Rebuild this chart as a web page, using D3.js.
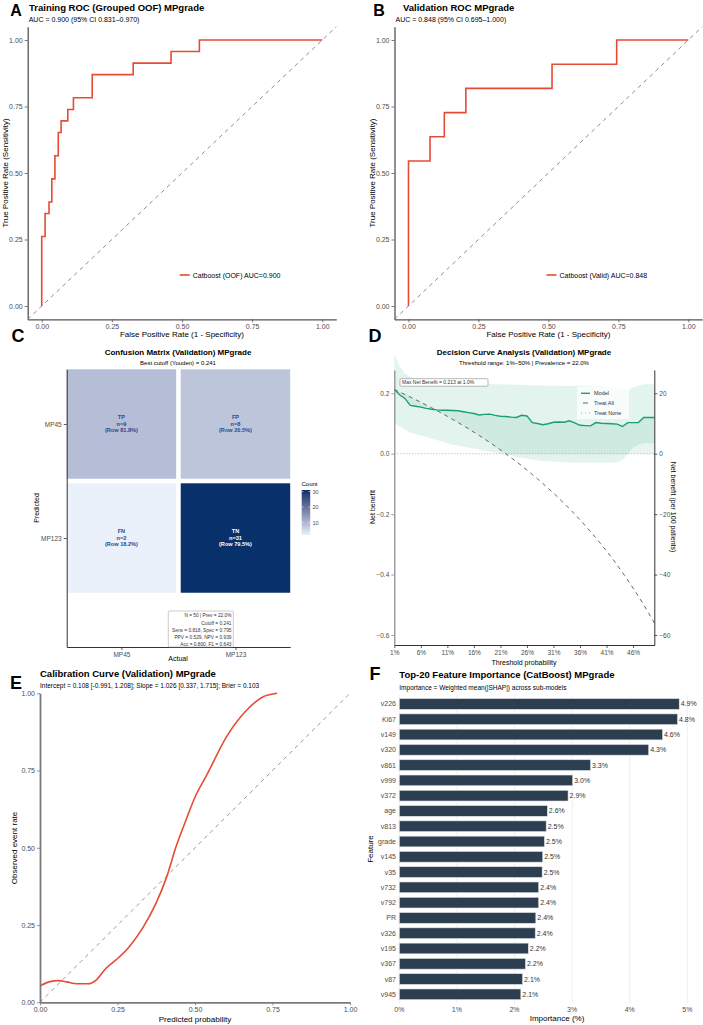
<!DOCTYPE html>
<html>
<head>
<meta charset="utf-8">
<script src="https://cdn.jsdelivr.net/npm/d3@7"></script>
<style>
body { margin: 0; background: #fff; }
text { font-family: "Liberation Sans", Arial, Helvetica, sans-serif; }
</style>
</head>
<body>
<div id="chart"></div>
<script>
// ---- data ----
var rocTrainFpr = [0, 0, 0.012, 0.026, 0.036, 0.047, 0.059, 0.069, 0.093, 0.113, 0.180, 0.326, 0.461, 0.562, 1]
var rocTrainTpr = [0, 0.261, 0.348, 0.391, 0.478, 0.565, 0.652, 0.696, 0.739, 0.783, 0.870, 0.913, 0.957, 1, 1]
var rocValidFpr = [0, 0, 0.077, 0.128, 0.205, 0.513, 0.744, 1]
var rocValidTpr = [0, 0.545, 0.636, 0.727, 0.818, 0.909, 1, 1]
var rocTicks = [0, 0.25, 0.5, 0.75, 1]

var cmActual = ["MP45", "MP123", "MP45", "MP123"]
var cmPredicted = ["MP45", "MP45", "MP123", "MP123"]
var cmLabel = ["TP", "FP", "FN", "TN"]
var cmCount = [9, 8, 2, 31]
var cmRowPct = ["81.8%", "20.5%", "18.2%", "79.5%"]
var cmStats = ["N = 50 | Prev = 22.0%", "Cutoff = 0.241", "Sens = 0.818, Spec = 0.795",
    "PPV = 0.529, NPV = 0.939", "Acc = 0.800, F1 = 0.643"]
var countTicks = [10, 20, 30]

var dcaThreshold = d3.range(1, 51).map(function(d) { return d / 100 })
var dcaModel = [0.213, 0.195, 0.183, 0.160, 0.157, 0.154, 0.150, 0.147, 0.145, 0.144,
    0.144, 0.143, 0.142, 0.139, 0.136, 0.133, 0.128, 0.130, 0.131, 0.127,
    0.124, 0.123, 0.121, 0.120, 0.127, 0.125, 0.103, 0.100, 0.096, 0.099,
    0.104, 0.105, 0.104, 0.109, 0.102, 0.094, 0.093, 0.092, 0.103, 0.101,
    0.100, 0.099, 0.098, 0.090, 0.103, 0.103, 0.103, 0.120, 0.120, 0.120]
var dcaUpper = [0.330, 0.290, 0.265, 0.255, 0.250, 0.247, 0.245, 0.243, 0.241, 0.240,
    0.238, 0.237, 0.236, 0.235, 0.234, 0.233, 0.232, 0.232, 0.231, 0.230,
    0.230, 0.229, 0.229, 0.228, 0.228, 0.227, 0.226, 0.226, 0.225, 0.225,
    0.225, 0.225, 0.224, 0.224, 0.224, 0.223, 0.223, 0.222, 0.222, 0.222,
    0.221, 0.221, 0.221, 0.220, 0.210, 0.220, 0.225, 0.230, 0.230, 0.230]
var dcaLower = [0.100, 0.090, 0.080, 0.070, 0.065, 0.060, 0.055, 0.050, 0.045, 0.040,
    0.035, 0.030, 0.027, 0.024, 0.020, 0.017, 0.014, 0.010, 0.007, 0.004,
    0.000, -0.003, -0.006, -0.010, -0.013, -0.016, -0.020, -0.022, -0.024, -0.025,
    -0.026, -0.027, -0.028, -0.028, -0.029, -0.030, -0.030, -0.030, -0.030, -0.030,
    -0.030, -0.030, -0.028, -0.020, 0.000, 0.020, 0.030, 0.035, 0.035, 0.035]
var dcaTreatAll = [0.2121, 0.2041, 0.1959, 0.1875, 0.1789, 0.1702, 0.1613, 0.1522, 0.1429, 0.1333,
    0.1236, 0.1136, 0.1034, 0.0930, 0.0824, 0.0714, 0.0602, 0.0488, 0.0370, 0.0250,
    0.0127, 0.0000, -0.0130, -0.0263, -0.0400, -0.0541, -0.0685, -0.0833, -0.0986, -0.1143,
    -0.1304, -0.1471, -0.1642, -0.1818, -0.2000, -0.2188, -0.2381, -0.2581, -0.2787, -0.3000,
    -0.3220, -0.3448, -0.3684, -0.3929, -0.4182, -0.4444, -0.4717, -0.5000, -0.5294, -0.5600]
var dcaXTicks = [0.01, 0.06, 0.11, 0.16, 0.21, 0.26, 0.31, 0.36, 0.41, 0.46]
var dcaYTicks = [-0.6, -0.4, -0.2, 0, 0.2]

var calPred = [0, 0.032, 0.059, 0.086, 0.118, 0.155, 0.181, 0.213, 0.245, 0.288, 0.331,
    0.374, 0.407, 0.439, 0.471, 0.503, 0.535, 0.602, 0.667, 0.720, 0.765]
var calObs = [0.053, 0.067, 0.070, 0.066, 0.060, 0.060, 0.072, 0.110, 0.137, 0.180, 0.240,
    0.320, 0.401, 0.504, 0.590, 0.671, 0.730, 0.860, 0.946, 0.989, 1.000]

var features = ["v226", "Ki67", "v149", "v320", "v861", "v999", "v372", "age", "v813", "grade",
    "v145", "v35", "v732", "v792", "PR", "v326", "v195", "v367", "v87", "v945"]
var importance = [4.86, 4.83, 4.57, 4.33, 3.32, 3.01, 2.93, 2.57, 2.55, 2.52,
    2.49, 2.48, 2.42, 2.42, 2.37, 2.36, 2.24, 2.19, 2.14, 2.11]
var impTicks = [0, 1, 2, 3, 4, 5]

// ---- colours ----
var RED = "#E64B35", GREEN = "#1B9E77", BAR = "#2C3E50", GRID = "#EBEBEB"
var TICK_TXT = "#4D4D4D", AXIS = "#555555"

var svg = d3.select("#chart").append("svg")
    .attr("width", 703)
    .attr("height", 1025)
    .style("background", "#fff")
svg.append("rect").attr("width", 703).attr("height", 1025).attr("fill", "#fff")

function text(g, x, y, s, size, opt) {
    opt = opt || {}
    var t = g.append("text")
        .attr("x", x).attr("y", y)
        .attr("font-size", size)
        .attr("fill", opt.fill || "#000")
        .attr("text-anchor", opt.anchor || "start")
        .text(s)
    if (opt.bold) t.attr("font-weight", "bold")
    if (opt.rotate) t.attr("transform", "rotate(" + opt.rotate + "," + x + "," + y + ")")
    return t
}

function styleAxis(g, lineColor, lineWidth, fontSize) {
    g.select(".domain").attr("stroke", lineColor).attr("stroke-width", lineWidth)
    g.selectAll(".tick line").attr("stroke", lineColor).attr("stroke-width", 0.8)
    g.selectAll(".tick text").attr("fill", TICK_TXT).attr("font-size", fontSize)
        .attr("font-family", "Liberation Sans, Arial, sans-serif")
}

// ---- panels A & B: ROC ----
function rocPanel(tag, tagX, x0, x1, title, titleX, sub, fpr, tpr, legendTxt) {
    var g = svg.append("g")
    var x = d3.scaleLinear().domain([-0.05, 1.05]).range([x0, x1])
    var y = d3.scaleLinear().domain([-0.05, 1.05]).range([319.3, 26.7])

    var ax = g.append("g").attr("transform", "translate(0,319.3)")
        .call(d3.axisBottom(x).tickValues(rocTicks).tickFormat(d3.format(".2f")).tickSize(3).tickSizeOuter(0).tickPadding(2))
    styleAxis(ax, AXIS, 1.3, 7)
    var ay = g.append("g").attr("transform", "translate(" + x0 + ",0)")
        .call(d3.axisLeft(y).tickValues(rocTicks).tickFormat(d3.format(".2f")).tickSize(3).tickSizeOuter(0).tickPadding(2))
    styleAxis(ay, AXIS, 1.3, 7)

    g.append("line")
        .attr("x1", x(-0.05)).attr("y1", y(-0.05)).attr("x2", x(1.05)).attr("y2", y(1.05))
        .attr("stroke", "#7F7F7F").attr("stroke-width", 0.9).attr("stroke-dasharray", "4,4")

    var pts = fpr.map(function(d, i) { return [d, tpr[i]] })
    g.append("path").datum(pts)
        .attr("d", d3.line().x(function(d) { return x(d[0]) }).y(function(d) { return y(d[1]) }).curve(d3.curveStepAfter))
        .attr("fill", "none").attr("stroke", RED).attr("stroke-width", 1.6)

    // legend inside the panel
    g.append("line").attr("x1", x0 + 152).attr("x2", x0 + 162).attr("y1", 275).attr("y2", 275)
        .attr("stroke", RED).attr("stroke-width", 1.6)
    text(g, x0 + 165, 277.5, legendTxt, 7)

    text(g, (x(0) + x(1)) / 2, 337, "False Positive Rate (1 - Specificity)", 8, {anchor: "middle"})
    text(g, x0 - 20, y(0.5), "True Positive Rate (Sensitivity)", 8, {anchor: "middle", rotate: -90})
    text(g, titleX, 11, title, 9.5, {bold: true})
    text(g, x0 + 1, 22, sub, 7)
    text(g, tagX, 16, tag, 16, {bold: true, anchor: "middle"})
}

rocPanel("A", 16, 27.7, 336.3, "Training ROC (Grouped OOF) MPgrade", 29,
    "AUC = 0.900 (95% CI 0.831\u20130.970)", rocTrainFpr, rocTrainTpr, "Catboost (OOF)  AUC=0.900")
rocPanel("B", 379, 394.5, 702.3, "Validation ROC MPgrade", 403,
    "AUC = 0.848 (95% CI 0.695\u20131.000)", rocValidFpr, rocValidTpr, "Catboost (Valid)  AUC=0.848")

// ---- panel C: confusion matrix ----
;(function() {
    var g = svg.append("g")
    var lv = ["MP45", "MP123"]
    var x = d3.scaleLinear().domain([0.52, 2.48]).range([66.7, 290.2])
    var y = d3.scaleLinear().domain([0.52, 2.956]).range([369.3, 647])
    var color = d3.scaleLinear().domain([2, 31]).range(["#EAF1FA", "#08306B"]).interpolate(d3.interpolateLab)

    g.selectAll("rect.tile").data(cmCount).enter().append("rect")
        .attr("class", "tile")
        .attr("x", function(d, i) { return x(lv.indexOf(cmActual[i]) + 1 - 0.48) })
        .attr("y", function(d, i) { return y(lv.indexOf(cmPredicted[i]) + 1 - 0.48) })
        .attr("width", x(1.48) - x(0.52))
        .attr("height", y(1.48) - y(0.52))
        .attr("fill", function(d) { return color(d) })

    cmCount.forEach(function(d, i) {
        var cx = x(lv.indexOf(cmActual[i]) + 1), cy = y(lv.indexOf(cmPredicted[i]) + 1)
        var col = d > 20 ? "#FFFFFF" : "#2B4A8C"
        var lines = [cmLabel[i], "n=" + d, "(Row " + cmRowPct[i] + ")"]
        lines.forEach(function(s, k) {
            text(g, cx, cy - 5 + k * 6.6, s, 5.6, {anchor: "middle", bold: true, fill: col})
        })
    })

    var ax = g.append("g").attr("transform", "translate(0,647)")
        .call(d3.axisBottom(x).tickValues([1, 2]).tickFormat(function(d) { return lv[d - 1] }).tickSize(3).tickSizeOuter(0).tickPadding(2))
    styleAxis(ax, "#333", 1, 6.5)
    var ay = g.append("g").attr("transform", "translate(66.7,0)")
        .call(d3.axisLeft(y).tickValues([1, 2]).tickFormat(function(d) { return lv[d - 1] }).tickSize(3).tickSizeOuter(0).tickPadding(2))
    styleAxis(ay, "#333", 1, 6.5)

    // stats box
    g.append("rect").attr("x", 168.3).attr("y", 611).attr("width", 65).attr("height", 36)
        .attr("fill", "#fff").attr("stroke", "#999").attr("stroke-width", 0.5).attr("rx", 1)
    cmStats.forEach(function(s, k) {
        text(g, 231.5, 617.3 + k * 7.2, s, 4.8, {anchor: "end", fill: "#333"})
    })

    // colour bar
    var grad = svg.append("defs").append("linearGradient").attr("id", "cmgrad")
        .attr("x1", 0).attr("y1", 1).attr("x2", 0).attr("y2", 0)
    d3.range(0, 1.01, 0.1).forEach(function(f) {
        grad.append("stop").attr("offset", f).attr("stop-color", color(2 + f * 29))
    })
    var cb = d3.scaleLinear().domain([2, 31]).range([535, 490])
    g.append("rect").attr("x", 301.7).attr("y", 490).attr("width", 8.5).attr("height", 45).attr("fill", "url(#cmgrad)")
    countTicks.forEach(function(v) {
        g.append("line").attr("x1", 301.7).attr("x2", 303.5).attr("y1", cb(v)).attr("y2", cb(v)).attr("stroke", "#fff").attr("stroke-width", 0.5)
        g.append("line").attr("x1", 308.4).attr("x2", 310.2).attr("y1", cb(v)).attr("y2", cb(v)).attr("stroke", "#fff").attr("stroke-width", 0.5)
        text(g, 312.5, cb(v) + 2, v, 5.5, {fill: TICK_TXT})
    })
    text(g, 301.5, 486, "Count", 6)

    text(g, 178, 355, "Confusion Matrix (Validation) MPgrade", 8, {anchor: "middle", bold: true})
    text(g, 178, 365, "Best cutoff (Youden) = 0.241", 6, {anchor: "middle"})
    text(g, 178, 661, "Actual", 7, {anchor: "middle"})
    text(g, 39, 508, "Predicted", 7, {anchor: "middle", rotate: -90})
    text(g, 18, 342, "C", 18, {bold: true, anchor: "middle"})
})()

// ---- panel D: decision curve ----
;(function() {
    var g = svg.append("g")
    var x = d3.scaleLinear().domain([0.01, 0.5]).range([394.3, 654.3])
    var y = d3.scaleLinear().domain([-0.633, 0.277]).range([645, 370])
    var y2 = d3.scaleLinear().domain([-63.3, 27.7]).range([645, 370])

    var rib = d3.area()
        .x(function(d, i) { return x(dcaThreshold[i]) })
        .y0(function(d, i) { return y(dcaLower[i]) })
        .y1(function(d, i) { return y(dcaUpper[i]) })
    g.append("path").datum(dcaModel).attr("d", rib).attr("fill", GREEN).attr("fill-opacity", 0.12)

    // benefit region between model and the better default strategy
    var ben = d3.area()
        .x(function(d, i) { return x(dcaThreshold[i]) })
        .y0(function(d, i) { return y(Math.max(dcaTreatAll[i], 0)) })
        .y1(function(d) { return y(d) })
    g.append("path").datum(dcaModel).attr("d", ben).attr("fill", GREEN).attr("fill-opacity", 0.1)

    g.append("line").attr("x1", x(0.01)).attr("x2", x(0.5)).attr("y1", y(0)).attr("y2", y(0))
        .attr("stroke", "#9A9A9A").attr("stroke-width", 0.8).attr("stroke-dasharray", "1,2")

    var ln = d3.line().x(function(d, i) { return x(dcaThreshold[i]) }).y(function(d) { return y(d) })
    g.append("path").datum(dcaTreatAll).attr("d", ln).attr("fill", "none")
        .attr("stroke", "#555").attr("stroke-width", 0.9).attr("stroke-dasharray", "4,4")
    g.append("path").datum(dcaModel).attr("d", ln).attr("fill", "none")
        .attr("stroke", GREEN).attr("stroke-width", 1.4)

    var ax = g.append("g").attr("transform", "translate(0,645)")
        .call(d3.axisBottom(x).tickValues(dcaXTicks).tickFormat(d3.format(".0%")).tickSize(3).tickSizeOuter(0).tickPadding(2))
    styleAxis(ax, "#333", 1, 6.5)
    var ay = g.append("g").attr("transform", "translate(394.3,0)")
        .call(d3.axisLeft(y).tickValues(dcaYTicks).tickFormat(d3.format(".1f")).tickSize(3).tickSizeOuter(0).tickPadding(2))
    styleAxis(ay, "#888", 1.2, 6.5)
    var ay2 = g.append("g").attr("transform", "translate(654.3,0)")
        .call(d3.axisRight(y2).tickValues([-60, -40, -20, 0, 20]).tickSize(3).tickSizeOuter(0).tickPadding(2))
    styleAxis(ay2, "#333", 1, 6.5)

    // max net benefit label
    g.append("rect").attr("x", 400).attr("y", 378.7).attr("width", 88).attr("height", 7.5)
        .attr("fill", "#fff").attr("stroke", "#777").attr("stroke-width", 0.5).attr("rx", 1.2)
    text(g, 402, 384.3, "Max Net Benefit = 0.213 at 1.0%", 5, {fill: "#333"})

    // legend
    g.append("rect").attr("x", 577).attr("y", 387).attr("width", 52).attr("height", 32).attr("fill", "#fff").attr("fill-opacity", 0.75)
    g.append("line").attr("x1", 581).attr("x2", 590).attr("y1", 393.3).attr("y2", 393.3).attr("stroke", GREEN).attr("stroke-width", 1.4)
    g.append("line").attr("x1", 583).attr("x2", 588).attr("y1", 403).attr("y2", 403).attr("stroke", "#555").attr("stroke-width", 0.9)
    g.append("line").attr("x1", 581).attr("x2", 590).attr("y1", 413).attr("y2", 413).attr("stroke", "#9A9A9A").attr("stroke-width", 0.8).attr("stroke-dasharray", "1,3")
    text(g, 594, 395.3, "Model", 5.5, {fill: "#333"})
    text(g, 594, 405, "Treat All", 5.5, {fill: "#333"})
    text(g, 594, 415, "Treat None", 5.5, {fill: "#333"})

    text(g, 524, 355, "Decision Curve Analysis (Validation) MPgrade", 8, {anchor: "middle", bold: true})
    text(g, 524, 365, "Threshold range: 1%\u201350% | Prevalence = 22.0%", 6, {anchor: "middle"})
    text(g, 524, 665, "Threshold probability", 7, {anchor: "middle"})
    text(g, 375, 507, "Net benefit", 7, {anchor: "middle", rotate: -90})
    text(g, 671, 507, "Net benefit (per 100 patients)", 7, {anchor: "middle", rotate: 90})
    text(g, 375, 342, "D", 18, {bold: true, anchor: "middle"})
})()

// ---- panel E: calibration ----
;(function() {
    var g = svg.append("g")
    var x = d3.scaleLinear().domain([0, 1]).range([40, 350])
    var y = d3.scaleLinear().domain([0, 1]).range([1002.3, 693.3])

    g.append("line").attr("x1", x(0)).attr("y1", y(0)).attr("x2", x(1)).attr("y2", y(1))
        .attr("stroke", "#8C8C8C").attr("stroke-width", 0.9).attr("stroke-dasharray", "4,4")

    var pts = calPred.map(function(d, i) { return [d, calObs[i]] })
    g.append("path").datum(pts)
        .attr("d", d3.line().x(function(d) { return x(d[0]) }).y(function(d) { return y(d[1]) }).curve(d3.curveMonotoneX))
        .attr("fill", "none").attr("stroke", RED).attr("stroke-width", 1.6)

    var ax = g.append("g").attr("transform", "translate(0,1002.3)")
        .call(d3.axisBottom(x).tickValues(rocTicks).tickFormat(d3.format(".2f")).tickSize(3).tickSizeOuter(0).tickPadding(2))
    styleAxis(ax, "#7A7A7A", 1.8, 7)
    var ay = g.append("g").attr("transform", "translate(40,0)")
        .call(d3.axisLeft(y).tickValues(rocTicks).tickFormat(d3.format(".2f")).tickSize(3).tickSizeOuter(0).tickPadding(2))
    styleAxis(ay, "#7A7A7A", 1.8, 7)

    text(g, 40, 677, "Calibration Curve (Validation) MPgrade", 9.5, {bold: true})
    text(g, 40, 688, "Intercept = 0.108 [-0.991, 1.208];  Slope = 1.026 [0.337, 1.715];  Brier = 0.103", 6.5)
    text(g, 195, 1022, "Predicted probability", 8, {anchor: "middle"})
    text(g, 17, 848, "Observed event rate", 8, {anchor: "middle", rotate: -90})
    text(g, 16, 689, "E", 18, {bold: true, anchor: "middle"})
})()

// ---- panel F: feature importance ----
;(function() {
    var g = svg.append("g")
    var x = d3.scaleLinear().domain([0, 5]).range([399.3, 687.3])
    var y = d3.scaleBand().domain(features).range([694.8, 1003.5]).paddingInner(0.3).paddingOuter(0.25)

    g.selectAll("line.grid").data(impTicks).enter().append("line")
        .attr("class", "grid")
        .attr("x1", function(d) { return x(d) }).attr("x2", function(d) { return x(d) })
        .attr("y1", 694.8).attr("y2", 1003.5)
        .attr("stroke", GRID).attr("stroke-width", 0.8)

    g.selectAll("rect.bar").data(importance).enter().append("rect")
        .attr("class", "bar")
        .attr("x", x(0))
        .attr("y", function(d, i) { return y(features[i]) })
        .attr("width", function(d) { return x(d) - x(0) })
        .attr("height", y.bandwidth())
        .attr("fill", BAR).attr("stroke", "#DDE2E7").attr("stroke-width", 0.6)

    importance.forEach(function(d, i) {
        text(g, x(d) + 1.5, y(features[i]) + y.bandwidth() / 2 + 2.5, d.toFixed(1) + "%", 7, {fill: "#333"})
        text(g, 396, y(features[i]) + y.bandwidth() / 2 + 2.5, features[i], 7, {anchor: "end", fill: TICK_TXT})
    })
    impTicks.forEach(function(d) {
        text(g, x(d), 1011.5, d + "%", 7, {anchor: "middle", fill: TICK_TXT})
    })

    text(g, 399.3, 678, "Top-20 Feature Importance (CatBoost) MPgrade", 9.5, {bold: true})
    text(g, 399.3, 690, "Importance = Weighted mean(|SHAP|) across sub-models", 6.5)
    text(g, 557, 1021, "Importance (%)", 8, {anchor: "middle"})
    text(g, 373, 849, "Feature", 8, {anchor: "middle", rotate: -90})
    text(g, 375, 680, "F", 18, {bold: true, anchor: "middle"})
})()
</script>
</body>
</html>
